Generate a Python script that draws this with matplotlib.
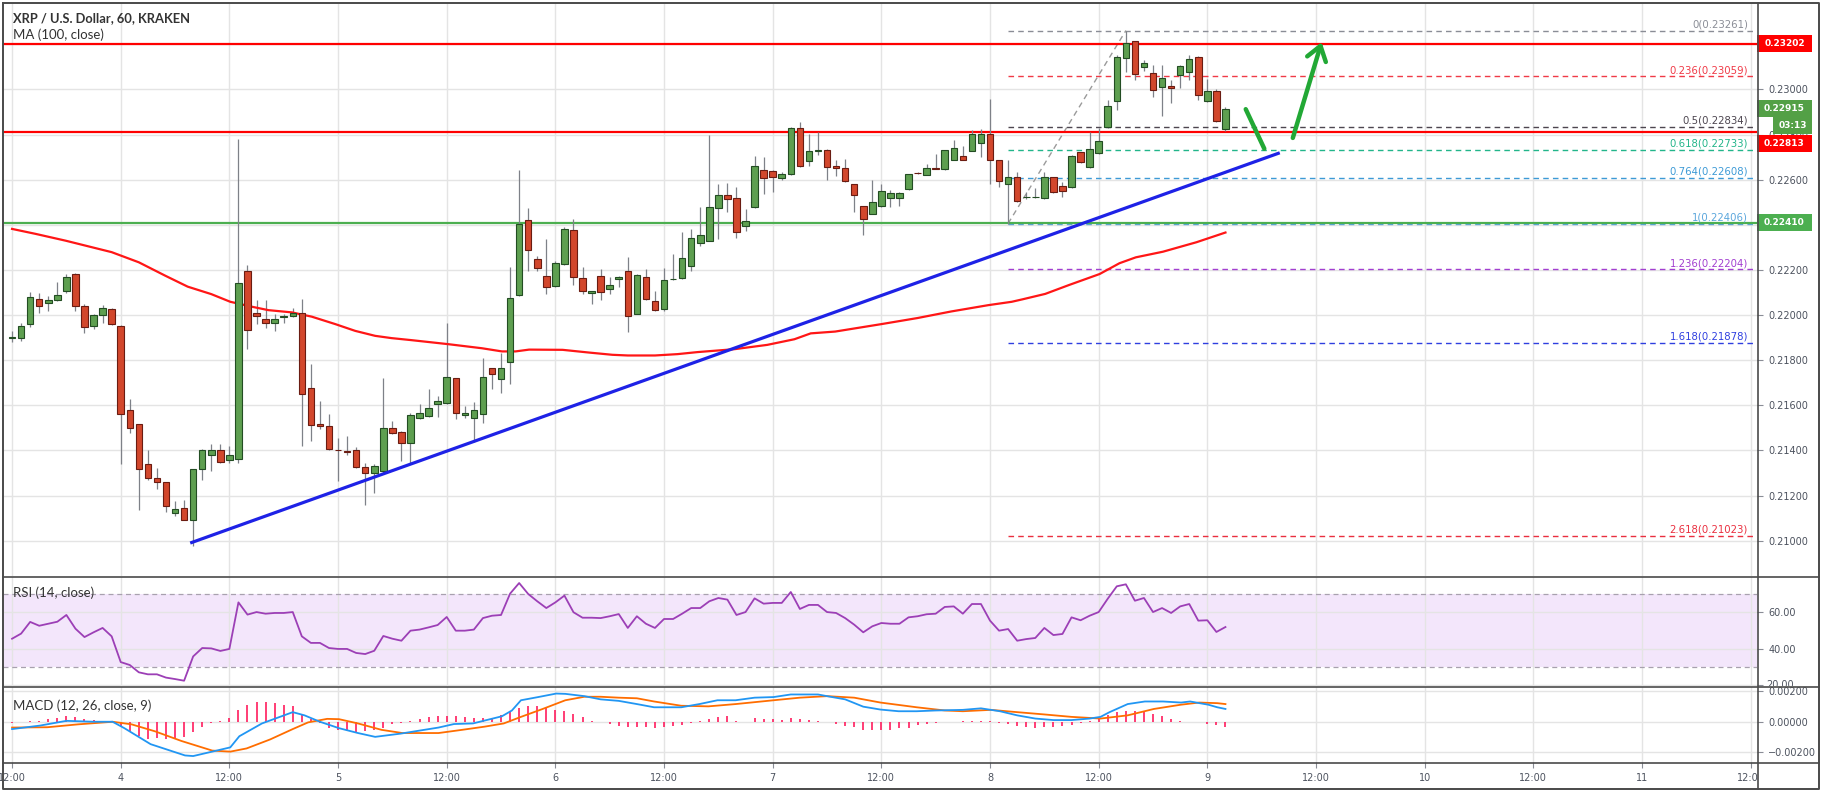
import numpy as np
import matplotlib
matplotlib.use("Agg")
import matplotlib.pyplot as plt
import matplotlib.transforms as mtransforms
from matplotlib.patches import Rectangle, FancyArrowPatch
from matplotlib.lines import Line2D

# ---- data: hourly XRP/USD candles, x = hours counted from day 3 00:00 ----
start_hour = 12
opens = [0.21898, 0.21898, 0.21960, 0.22070, 0.22053, 0.22067, 0.22107, 0.22182, 0.22040, 0.21951,
         0.22000, 0.22027, 0.21951, 0.21578, 0.21516, 0.21338, 0.21279, 0.21262, 0.21124, 0.21147,
         0.21093, 0.21320, 0.21382, 0.21400, 0.21356, 0.21360, 0.22196, 0.22010, 0.21982, 0.21967,
         0.21990, 0.21996, 0.22010, 0.21679, 0.21516, 0.21508, 0.21404, 0.21397, 0.21400, 0.21326,
         0.21298, 0.21311, 0.21498, 0.21481, 0.21434, 0.21545, 0.21551, 0.21604, 0.21609, 0.21720,
         0.21556, 0.21545, 0.21563, 0.21764, 0.21716, 0.21790, 0.22089, 0.22422, 0.22249, 0.22173,
         0.22129, 0.22227, 0.22378, 0.22164, 0.22098, 0.22173, 0.22114, 0.22159, 0.22197, 0.22007,
         0.22170, 0.22064, 0.22025, 0.22159, 0.22163, 0.22216, 0.22319, 0.22330, 0.22474, 0.22533,
         0.22517, 0.22394, 0.22479, 0.22644, 0.22640, 0.22607, 0.22625, 0.22831, 0.22683, 0.22727,
         0.22730, 0.22659, 0.22653, 0.22582, 0.22484, 0.22449, 0.22484, 0.22520, 0.22520, 0.22560,
         0.22631, 0.22622, 0.22653, 0.22647, 0.22689, 0.22704, 0.22729, 0.22764, 0.22801, 0.22689,
         0.22581, 0.22614, 0.22522, 0.22522, 0.22518, 0.22611, 0.22574, 0.22566, 0.22721, 0.22655,
         0.22717, 0.22832, 0.22948, 0.23138, 0.23214, 0.23098, 0.23072, 0.23010, 0.23017, 0.23063,
         0.23078, 0.23143, 0.22951, 0.22993, 0.22823]
highs = [0.21930, 0.21967, 0.22101, 0.22096, 0.22086, 0.22145, 0.22182, 0.22187, 0.22049, 0.22004,
         0.22046, 0.22031, 0.21955, 0.21630, 0.21516, 0.21404, 0.21323, 0.21262, 0.21175, 0.21182,
         0.21316, 0.21406, 0.21427, 0.21427, 0.21419, 0.22782, 0.22224, 0.22067, 0.22067, 0.22004,
         0.22004, 0.22031, 0.22071, 0.21782, 0.21619, 0.21560, 0.21453, 0.21464, 0.21415, 0.21345,
         0.21338, 0.21723, 0.21530, 0.21486, 0.21567, 0.21604, 0.21671, 0.21641, 0.21967, 0.21723,
         0.21597, 0.21616, 0.21809, 0.21767, 0.21833, 0.22212, 0.22644, 0.22474, 0.22264, 0.22338,
         0.22241, 0.22390, 0.22425, 0.22212, 0.22108, 0.22204, 0.22167, 0.22175, 0.22256, 0.22182,
         0.22204, 0.22108, 0.22209, 0.22271, 0.22367, 0.22382, 0.22479, 0.22797, 0.22579, 0.22587,
         0.22570, 0.22471, 0.22704, 0.22701, 0.22641, 0.22634, 0.22834, 0.22856, 0.22801, 0.22812,
         0.22738, 0.22686, 0.22693, 0.22582, 0.22484, 0.22600, 0.22582, 0.22556, 0.22545, 0.22627,
         0.22634, 0.22668, 0.22713, 0.22733, 0.22778, 0.22748, 0.22822, 0.22827, 0.22960, 0.22689,
         0.22688, 0.22636, 0.22547, 0.22562, 0.22636, 0.22614, 0.22591, 0.22710, 0.22724, 0.22813,
         0.22828, 0.22953, 0.23153, 0.23261, 0.23217, 0.23131, 0.23109, 0.23109, 0.23042, 0.23109,
         0.23153, 0.23148, 0.23045, 0.23001, 0.22921]
lows = [0.21879, 0.21883, 0.21948, 0.22010, 0.22019, 0.22064, 0.22096, 0.22016, 0.21919, 0.21938,
        0.21966, 0.21957, 0.21341, 0.21479, 0.21138, 0.21271, 0.21227, 0.21127, 0.21108, 0.21092,
        0.20978, 0.21271, 0.21308, 0.21345, 0.21345, 0.21345, 0.21849, 0.21960, 0.21945, 0.21930,
        0.21967, 0.21990, 0.21419, 0.21441, 0.21493, 0.21404, 0.21264, 0.21382, 0.21323, 0.21157,
        0.21212, 0.21301, 0.21471, 0.21353, 0.21338, 0.21538, 0.21548, 0.21548, 0.21604, 0.21538,
        0.21545, 0.21439, 0.21523, 0.21671, 0.21656, 0.21693, 0.22086, 0.22194, 0.22197, 0.22093,
        0.22126, 0.22224, 0.22135, 0.22093, 0.22049, 0.22067, 0.22093, 0.22123, 0.21923, 0.22004,
        0.22067, 0.22019, 0.22019, 0.22156, 0.22160, 0.22194, 0.22308, 0.22327, 0.22338, 0.22456,
        0.22342, 0.22372, 0.22476, 0.22538, 0.22545, 0.22600, 0.22619, 0.22656, 0.22662, 0.22708,
        0.22600, 0.22615, 0.22590, 0.22456, 0.22353, 0.22446, 0.22479, 0.22479, 0.22483, 0.22556,
        0.22627, 0.22619, 0.22647, 0.22644, 0.22686, 0.22686, 0.22726, 0.22701, 0.22579, 0.22570,
        0.22406, 0.22503, 0.22515, 0.22518, 0.22515, 0.22540, 0.22525, 0.22562, 0.22673, 0.22651,
        0.22714, 0.22829, 0.22909, 0.23079, 0.23042, 0.23084, 0.22968, 0.22883, 0.22939, 0.23005,
        0.23042, 0.22953, 0.22946, 0.22857, 0.22818]
closes = [0.21900, 0.21951, 0.22079, 0.22040, 0.22067, 0.22089, 0.22169, 0.22039, 0.21947, 0.22000,
          0.22031, 0.21960, 0.21560, 0.21498, 0.21316, 0.21279, 0.21262, 0.21156, 0.21142, 0.21093,
          0.21316, 0.21404, 0.21404, 0.21350, 0.21378, 0.22141, 0.21936, 0.21996, 0.21963, 0.21982,
          0.21996, 0.22010, 0.21649, 0.21513, 0.21508, 0.21407, 0.21400, 0.21394, 0.21326, 0.21298,
          0.21330, 0.21498, 0.21476, 0.21434, 0.21557, 0.21564, 0.21587, 0.21619, 0.21726, 0.21567,
          0.21564, 0.21578, 0.21726, 0.21741, 0.21764, 0.22077, 0.22406, 0.22287, 0.22209, 0.22123,
          0.22233, 0.22382, 0.22167, 0.22107, 0.22108, 0.22102, 0.22133, 0.22167, 0.21994, 0.22178,
          0.22070, 0.22022, 0.22156, 0.22161, 0.22253, 0.22342, 0.22353, 0.22481, 0.22533, 0.22514,
          0.22367, 0.22415, 0.22662, 0.22607, 0.22612, 0.22627, 0.22831, 0.22661, 0.22726, 0.22730,
          0.22656, 0.22653, 0.22594, 0.22532, 0.22425, 0.22502, 0.22548, 0.22542, 0.22542, 0.22624,
          0.22628, 0.22653, 0.22647, 0.22730, 0.22742, 0.22689, 0.22801, 0.22801, 0.22689, 0.22596,
          0.22614, 0.22506, 0.22525, 0.22525, 0.22611, 0.22544, 0.22552, 0.22705, 0.22677, 0.22736,
          0.22770, 0.22927, 0.23143, 0.23208, 0.23069, 0.23116, 0.22998, 0.23049, 0.23005, 0.23104,
          0.23134, 0.22974, 0.22993, 0.22860, 0.22915]

# MA(100, close) read at points along the line
ma_hours = [12, 14.6, 17.9, 23, 26, 28.9, 31.4, 34, 36.1, 38.5, 40.3, 42.9, 45.1, 47.7, 49.9, 52.1,
            53.9, 56.1, 60.2, 63.9, 66.1, 67.6, 69.1, 72.8, 75.7, 78.3, 80, 83, 85.5, 87.7, 91.8,
            95.4, 98.4, 100.2, 102.9, 108, 112, 115.7, 119.8, 122.4, 123.6, 126.1, 128.7, 132.1,
            134.3, 136.1, 139.1, 142.8, 146]
ma_values = [0.22382, 0.22360, 0.22330, 0.22279, 0.22234, 0.22175, 0.22126, 0.22093, 0.22059,
             0.22037, 0.22022, 0.22012, 0.21993, 0.21960, 0.21930, 0.21908, 0.21898, 0.21889,
             0.21871, 0.21853, 0.21839, 0.21839, 0.21847, 0.21846, 0.21834, 0.21824, 0.21821,
             0.21821, 0.21827, 0.21836, 0.21849, 0.21868, 0.21893, 0.21919, 0.21927, 0.21960,
             0.21987, 0.22016, 0.22044, 0.22059, 0.22070, 0.22094, 0.22133, 0.22182, 0.22230,
             0.22256, 0.22281, 0.22323, 0.22366]

# RSI(14), one value per candle
rsi_values = [45.5, 48.3, 54.7, 52.6, 53.7, 54.8, 58.5, 51.0, 46.4, 49.0, 51.4, 46.8, 32.7, 31.1,
              27.1, 26.0, 26.0, 24.2, 23.4, 22.5, 35.8, 40.4, 40.2, 38.8, 39.9, 65.4, 58.7, 60.1,
              59.2, 59.6, 59.6, 60.1, 46.8, 43.2, 43.2, 40.4, 39.9, 39.9, 37.7, 37.1, 38.9, 47.0,
              45.5, 44.4, 49.9, 50.5, 51.7, 53.0, 57.4, 49.9, 49.9, 50.5, 56.8, 58.1, 58.5, 70.2,
              76.0, 70.0, 66.0, 62.3, 65.4, 69.1, 60.0, 57.0, 57.0,
              56.8, 57.8, 59.0, 51.4, 57.8, 53.7, 51.4, 56.3, 56.3, 59.2, 62.3, 62.3, 66.0, 67.8,
              66.9, 58.5, 60.1, 67.6, 64.7, 65.1, 65.1, 71.1, 61.8, 64.0, 64.0, 60.1, 59.6, 56.8,
              53.2, 49.0, 52.3, 54.1, 53.7, 53.7, 57.2, 57.8, 58.9, 59.2, 62.9, 63.2, 59.2, 64.5,
              64.5, 55.4, 49.9, 50.8, 44.4, 45.3, 45.9, 51.4, 47.5, 48.1, 57.2, 55.6, 58.1, 60.1,
              67.4, 74.2, 75.3, 66.3, 67.8, 60.1, 62.3, 59.6, 63.2, 64.5, 55.4, 55.6, 49.2, 51.9]

# MACD(12, 26, 9), in units of 1e-5
macd_hist = np.array([-6, -4, 4, 6, 15, 23, 36, 32, 15, 11, 4, 0, -25, -63, -91, -112, -105, -116,
                      -105, -101, -69, -36, -6, 4, 25, 78, 112, 131, 131, 126, 112, 101, 53, 15,
                      -11, -42, -53, -63, -69, -63, -53, -38, -17, -6, 6, 15, 32, 38, 40, 36, 32,
                      27, 27, 27, 42, 63, 88, 101, 101, 88, 80, 69, 48, 32, 6,
                      -4, -17, -25, -32, -32, -32, -42, -32, -27, -21, -11, 2, 17, 32, 36, 6, 1,
                      27, 21, 17, 11, 27, 15, 11, 6, -1, -15, -25, -32, -53, -57, -53, -53, -42,
                      -38, -21, -17, -11, -2, 1, 2, 4, 6, 2, -11, -15, -27, -32, -42, -32, -32,
                      -25, -21, -11, 4, 21, 42, 63, 69, 69, 63, 48, 36, 15, 6, 1, -4, -15, -21,
                      -32]) * 1e-5
macd_hours = [12, 15.1, 18, 21, 23.1, 24.4, 27.3, 31.1, 32, 34.1, 36.1, 37.1, 39.6, 43, 44.3, 46,
              48.1, 50.2, 52.1, 54.9, 59.1, 60.8, 62.9, 66.1, 67.2, 68.2, 70.1, 72.1, 73.1, 75.2,
              77, 79, 81, 82.9, 85.9, 87.9, 89.9, 91.9, 94, 96.1, 98, 101, 102, 104, 106, 107.9,
              109.9, 111.9, 114, 117, 119, 121.1, 123, 125, 127, 129, 131, 132.2, 133.2, 135.2,
              137.1, 139.1, 141.1, 142.1, 144.1, 145.1, 146]
macd_values = np.array([-48, -25, 6, 0, 0, -42, -147, -221, -225, -196, -168, -95, -11, 63, 42, 0,
                        -42, -74, -99, -78, -38, -15, -11, 36, 74, 141, 162, 185, 183, 168, 147,
                        137, 116, 95, 95, 116, 141, 141, 158, 162, 179, 179, 168, 147, 99, 80, 69,
                        69, 74, 78, 88, 69, 42, 21, 11, 11, 21, 32, 63, 116, 133, 133, 126, 133,
                        112, 95, 84]) * 1e-5
signal_hours = [12, 15.9, 19.3, 23.1, 25.2, 27.8, 30.7, 34.1, 36.1, 37.9, 40.5, 43, 44.7, 46.8,
                48.1, 50.2, 52.8, 55.1, 59.1, 61.7, 64.2, 66.3, 68.2, 70.6, 73.1, 75.2, 77, 79, 81,
                82.9, 85.9, 88.9, 91.9, 96.1, 99, 102, 105, 107.9, 111.9, 115, 117, 120.1, 123,
                126, 129, 132.2, 135.2, 138.1, 141.1, 143.1, 145.1, 146]
signal_values = np.array([-38, -36, -17, 0, -17, -63, -126, -189, -196, -175, -116, -48, -4, 19,
                          17, -11, -53, -74, -74, -53, -32, -11, 32, 84, 141, 164, 164, 158, 154,
                          133, 105, 101, 116, 141, 158, 168, 158, 126, 95, 74, 69, 78, 63, 48, 32,
                          21, 42, 84, 112, 126, 122, 116]) * 1e-5

# drawn levels
resistance_top = 0.23202
resistance_mid = 0.22813
support_green = 0.22410
last_price = 0.22915
countdown = "03:13"

fib_levels = ["0", "0.236", "0.5", "0.618", "0.764", "1", "1.236", "1.618", "2.618"]
fib_prices = [0.23261, 0.23059, 0.22834, 0.22733, 0.22608, 0.22406, 0.22204, 0.21878, 0.21023]
fib_colors = ["#8a8d96", "#f03a47", "#4d4650", "#22b58a", "#3d9ad6", "#5aa6dc",
              "#a23fd0", "#2f3fe0", "#ea2f3f"]
fib_low_hour, fib_high_hour = 122, 135

trend_hours = [31.84, 151.83]
trend_prices = [0.20992, 0.22717]

tick_hours = [12, 24, 36, 48, 60, 72, 84, 96, 108, 120, 132, 144, 156, 168, 180, 192, 204]
tick_labels = ["12:00", "4", "12:00", "5", "12:00", "6", "12:00", "7", "12:00", "8",
               "12:00", "9", "12:00", "10", "12:00", "11", "12:00"]
price_ticks = [0.210, 0.212, 0.214, 0.216, 0.218, 0.220, 0.222, 0.224, 0.226, 0.228, 0.230, 0.232]


def main():
    plt.rcParams['font.family'] = ['DejaVu Sans']
    W, H = 1822, 792
    fig = plt.figure(figsize=(W / 100, H / 100), dpi=100)
    fig.patch.set_facecolor("white")

    def box(x0, y0, x1, y1):
        return [x0 / W, 1 - y1 / H, (x1 - x0) / W, (y1 - y0) / H]

    ax = fig.add_axes(box(3, 3, 1757, 576))
    ax_rsi = fig.add_axes(box(3, 577, 1757, 686), sharex=ax)
    ax_macd = fig.add_axes(box(3, 687, 1757, 762), sharex=ax)

    txt_col = "#4c525e"
    for a in (ax, ax_rsi, ax_macd):
        for s in a.spines.values():
            s.set_visible(False)
        a.set_axisbelow(True)
        a.grid(True, color="#e4e4e4", lw=1)
        a.yaxis.tick_right()
        a.tick_params(axis="y", length=4, width=0.8, color="#8a8d96", pad=4,
                      labelsize=7, labelcolor=txt_col)
    ax.set_xlim(11.0, 204.7)
    ax_macd.set_xticks(tick_hours, labels=tick_labels)
    for a in (ax, ax_rsi):
        a.tick_params(axis="x", length=0, labelbottom=False)
    ax_macd.tick_params(axis="x", length=4, width=0.8, color="#8a8d96", pad=4,
                        labelsize=7, labelcolor=txt_col)

    # ---- price panel ----
    ax.set_ylim(0.208435, 0.233834)
    tag_prices = (resistance_top, support_green)
    # axis labels that sit under a price tag stay hidden, as on the chart
    ax.set_yticks(price_ticks, labels=["" if any(abs(p - t) < 0.0003 for t in tag_prices)
                                       else f"{p:.5f}" for p in price_ticks])

    o, h, l, c = map(np.array, (opens, highs, lows, closes))
    x = np.arange(start_hour, start_hour + len(o))
    up = c >= o
    bottom = np.minimum(o, c)
    height = np.maximum(np.abs(c - o), 0.00003)
    ax.vlines(x, l, h, color="#7e8188", lw=0.9, zorder=3)
    ax.bar(x[up], height[up], bottom=bottom[up], width=0.72, color="#5e9f50",
           edgecolor="#234d23", linewidth=0.8, zorder=4)
    ax.bar(x[~up], height[~up], bottom=bottom[~up], width=0.72, color="#d2472c",
           edgecolor="#6a1c12", linewidth=0.8, zorder=4)

    ax.plot(ma_hours, ma_values, color="#ff1616", lw=1.6, zorder=3.5)

    ax.axhline(resistance_top, color="#ff0000", lw=1.6, zorder=2.5)
    ax.axhline(resistance_mid, color="#ff0000", lw=1.6, zorder=2.5)
    ax.axhline(support_green, color="#4caf50", lw=1.6, zorder=2.5)

    # fibonacci retracement
    ax.hlines(fib_prices, fib_low_hour, 204.7, colors=fib_colors, linestyles=[(0, (4, 3))],
              lw=1, zorder=2)
    ax.plot([fib_low_hour, fib_high_hour], [fib_prices[5], fib_prices[0]], color="#9a9a9a",
            lw=1, ls=(0, (4, 3)), zorder=2)
    lab_trans = mtransforms.offset_copy(ax.transData, fig=fig, y=3, units="dots")
    for lvl, p, col in zip(fib_levels, fib_prices, fib_colors):
        ax.text(203.7, p, f"{lvl}({p:.5f})", color=col, fontsize=7.3, ha="right",
                va="baseline", transform=lab_trans, zorder=5)

    ax.plot(trend_hours, trend_prices, color="#1e22e6", lw=2.3, zorder=5)

    # projected move
    green = "#22a835"
    ax.plot([148.24, 150.29], [0.229127, 0.227376], color=green, lw=3.2,
            solid_capstyle="round", zorder=6)
    ax.add_patch(FancyArrowPatch((153.35, 0.227735), (156.71, 0.232216),
                                 arrowstyle="->,head_length=5,head_width=3.5", color=green,
                                 lw=3.2, mutation_scale=2, zorder=6))

    # price tags on the axis
    tag_tr = mtransforms.blended_transform_factory(fig.transFigure, ax.transData)
    ppx = 22560.0  # pixels per price unit

    def tag(price, text, color, x0=1757, x1=1812, dy=0):
        tr = mtransforms.offset_copy(tag_tr, fig=fig, y=dy, units="dots")
        hh = 17 / ppx
        ax.add_patch(Rectangle((x0 / W, price - hh / 2), (x1 - x0) / W, hh, transform=tr,
                               fc=color, ec="none", clip_on=False, zorder=10))
        ax.text((x0 + x1) / 2 / W, price, text, transform=tr, ha="center", va="center",
                color="white", fontsize=6.5, fontweight="bold", clip_on=False, zorder=11)

    tag(resistance_top, f"{resistance_top:.5f}", "#ff0000")
    tag(last_price, f"{last_price:.5f}", "#53a046")
    tag(last_price, countdown, "#53a046", x0=1773, dy=-16.5)
    tag(resistance_mid, f"{resistance_mid:.5f}", "#ff0000", dy=-12)
    tag(support_green, f"{support_green:.5f}", "#4caf50")

    # ---- RSI panel ----
    ax_rsi.set_ylim(19.6, 79.3)
    ax_rsi.set_yticks([20, 40, 60], labels=["", "40.00", "60.00"])
    ax_rsi.axhspan(30, 70, fc="#f3e6fb", ec="none", zorder=0.2)
    for lvl in (30, 70):
        ax_rsi.axhline(lvl, color="#a8a1ae", lw=0.9, ls=(0, (4, 3)), zorder=0.6)
    ax_rsi.plot(x, rsi_values, color="#9c3fb6", lw=1.3, zorder=3)
    # the 20.00 label is cut by the MACD pane border, only its upper half shows
    low_lab = fig.text(1766 / W, 1 - 685 / H, "20.00", fontsize=7, color=txt_col,
                       ha="left", va="center")
    low_lab.set_clip_box(mtransforms.TransformedBbox(
        mtransforms.Bbox([[1758 / W, 1 - 686 / H], [1.0, 1 - 577 / H]]), fig.transFigure))
    low_lab.set_clip_on(True)

    # ---- MACD panel ----
    ax_macd.set_ylim(-0.00264, 0.00228)
    ax_macd.set_yticks([-0.002, 0, 0.002], labels=["\u22120.00200", "0.00000", "0.00200"])
    ax_macd.vlines(x, 0, macd_hist, color="#ff1d5e", lw=1.2, zorder=2)
    ax_macd.plot(signal_hours, signal_values, color="#ff6d00", lw=1.3, zorder=3)
    ax_macd.plot(macd_hours, macd_values, color="#2196f3", lw=1.3, zorder=3)

    # ---- captions ----
    fig.text(13 / W, 1 - 18 / H, "XRP / U.S. Dollar, 60, KRAKEN", family="Lato",
             fontsize=9.3, fontweight="bold", color="#333333", va="center")
    fig.text(13 / W, 1 - 35 / H, "MA (100, close)", family="Lato", fontsize=9.5,
             color="#333333", va="center")
    fig.text(13 / W, 1 - 593 / H, "RSI (14, close)", family="Lato", fontsize=9.5,
             color="#333333", va="center")
    fig.text(13 / W, 1 - 706 / H, "MACD (12, 26, close, 9)", family="Lato", fontsize=9.5,
             color="#333333", va="center")

    # ---- frame ----
    fig.add_artist(Rectangle((1758 / W, 1 - 789 / H), 61 / W, 26 / H, transform=fig.transFigure,
                             fc="white", ec="none", zorder=15))
    line_col = "#4a4a4a"

    def fline(xs, ys, lw=1.2):
        fig.add_artist(Line2D([v / W for v in xs], [1 - v / H for v in ys],
                              transform=fig.transFigure, color=line_col, lw=lw, zorder=20))

    for yy in (576.5, 686.5, 762.5):
        fline([3, 1819], [yy, yy])
    fline([1757.5, 1757.5], [3, 789])
    fline([3, 1819, 1819, 3, 3], [3, 3, 789, 789, 3], lw=1.4)

    fig.savefig("out.png", dpi=100)


if __name__ == "__main__":
    main()
